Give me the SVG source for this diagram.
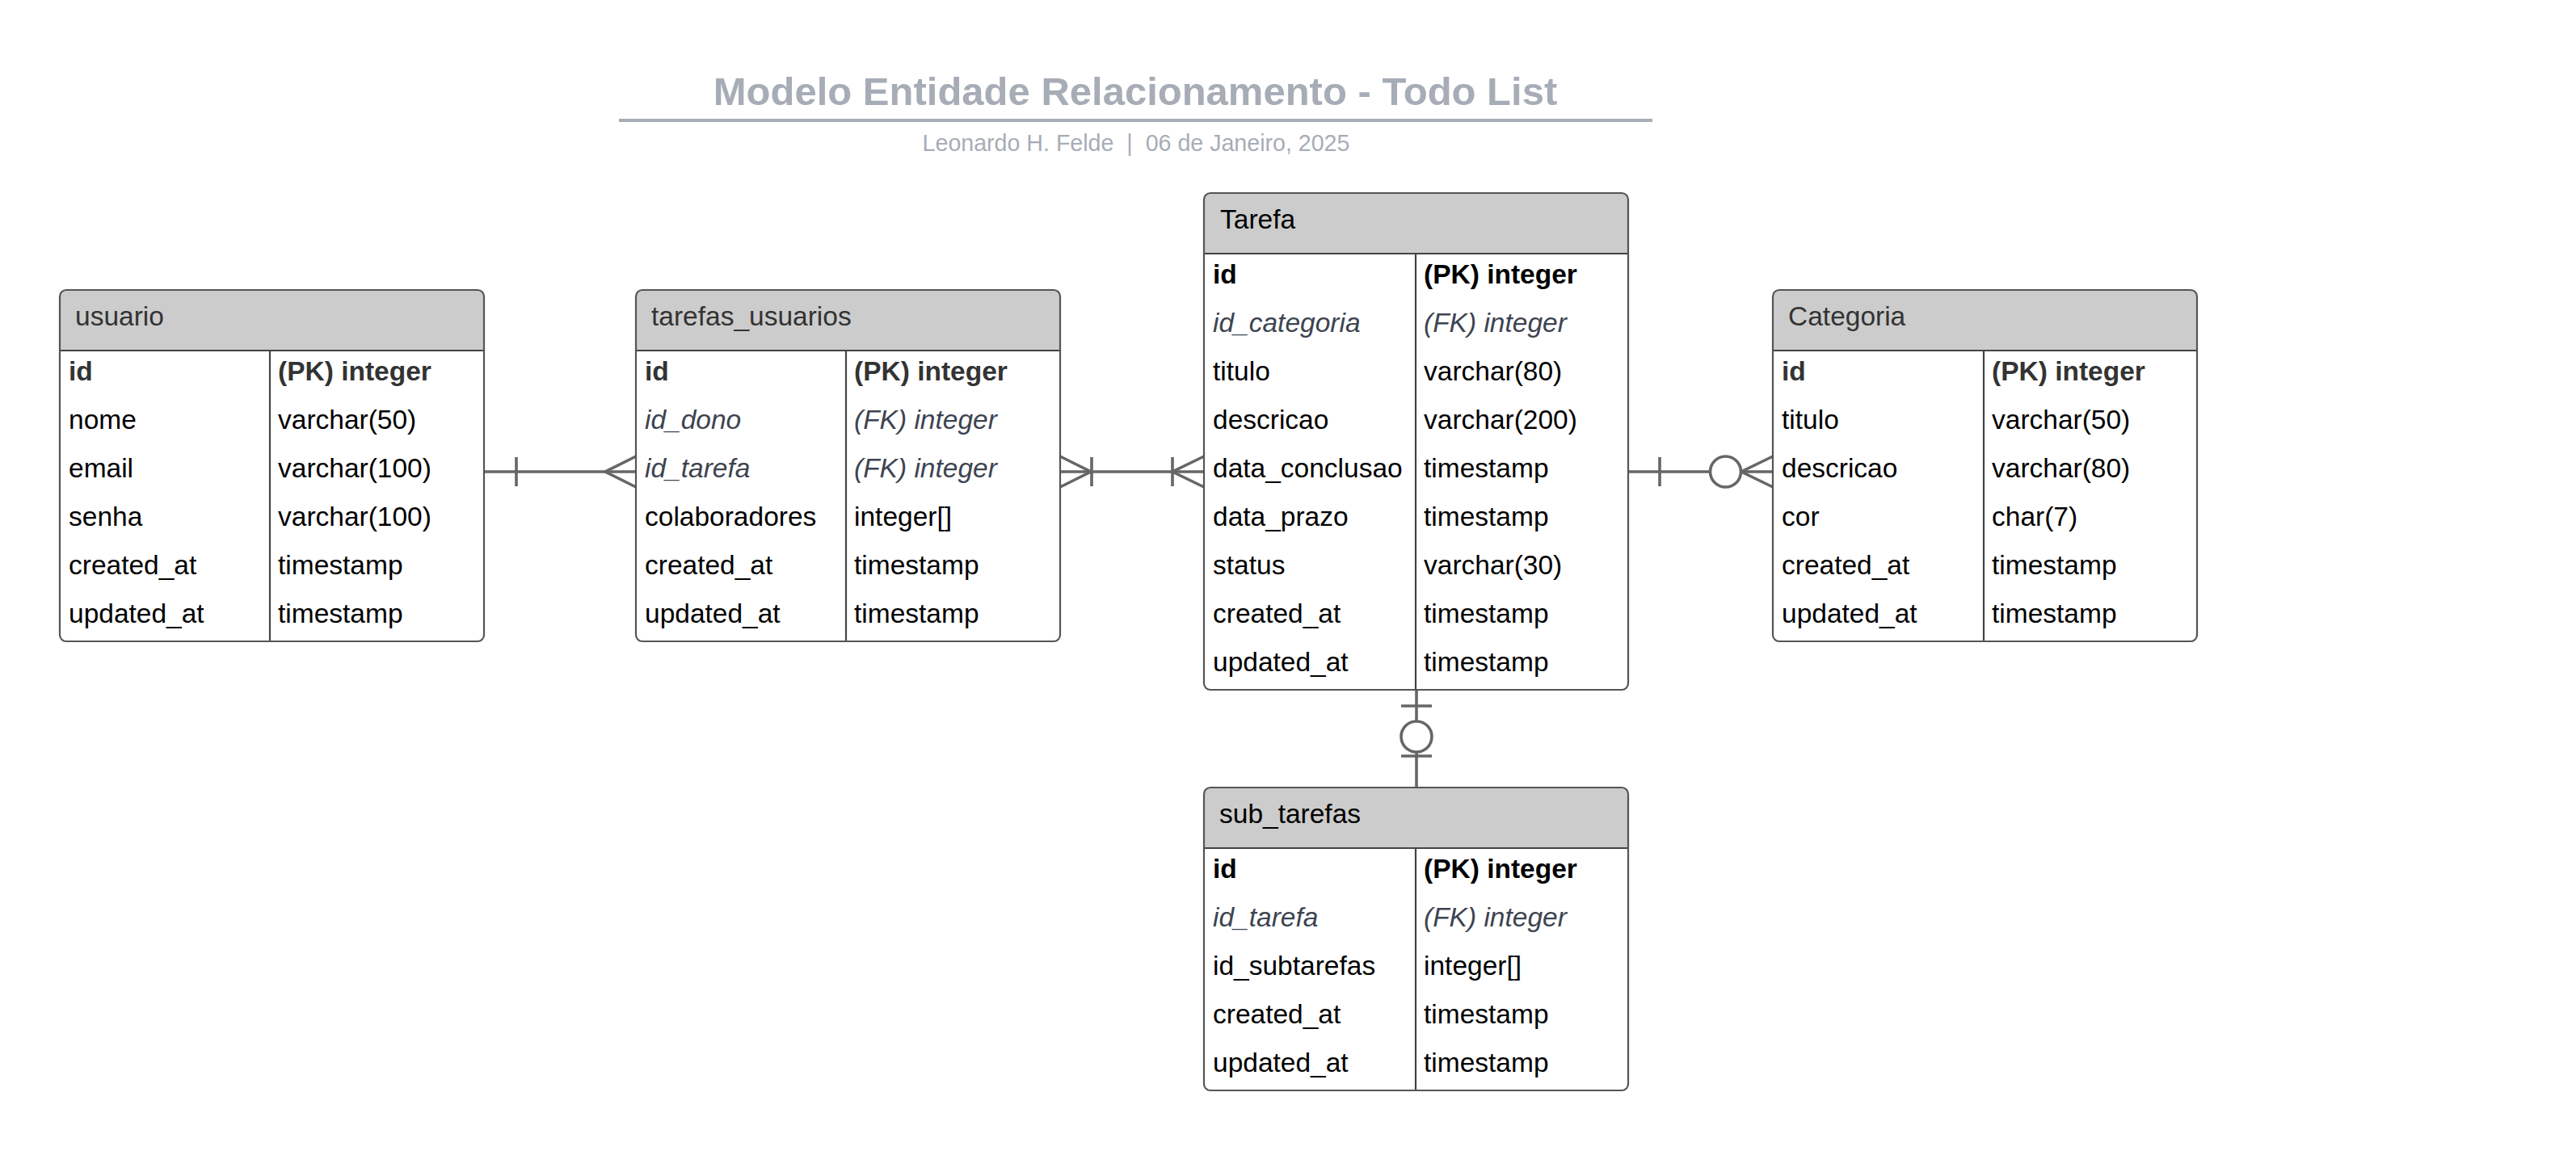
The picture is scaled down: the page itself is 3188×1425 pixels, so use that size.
<svg xmlns="http://www.w3.org/2000/svg" width="3188" height="1425" viewBox="0 0 3188 1425">
<style>
text{font-family:"Liberation Sans",Arial,sans-serif;}
.title{font-size:49px;font-weight:bold;fill:#a7adb6;}
.sub{font-size:28.6px;fill:#a7adb6;}
.hdr{fill:#cccccc;}
.frame{fill:none;stroke:#555555;stroke-width:2.2;}
.body{fill:#ffffff;}
.div{stroke:#444444;stroke-width:2.2;}
.ht{font-size:33.5px;fill:#333333;}
.ht.dk{fill:#000000;}
.t{font-size:33.5px;fill:#000000;}
.pk{font-size:33.5px;font-weight:bold;fill:#333333;}
.pk.dk{fill:#000000;}
.fk{font-size:33.5px;font-style:italic;fill:#3d4451;}
.cn{stroke:#666666;stroke-width:3.6;fill:none;}
.cc{stroke:#666666;stroke-width:3.6;fill:#ffffff;}
</style>

<g id="title">
<text class="title" x="1405" y="130" text-anchor="middle">Modelo Entidade Relacionamento - Todo List</text>
<line x1="766" y1="149" x2="2045" y2="149" stroke="#a7adb6" stroke-width="4"/>
<text class="sub" x="1406" y="187" text-anchor="middle" xml:space="preserve">Leonardo H. Felde  |  06 de Janeiro, 2025</text>
</g>

<g id="connectors">
<!-- usuario -> tarefas_usuarios -->
<line class="cn" x1="599" y1="584" x2="787" y2="584"/>
<line class="cn" x1="639" y1="566" x2="639" y2="602"/>
<path class="cn" d="M787,565 L749,584 L787,603"/>
<!-- tarefas_usuarios -> Tarefa -->
<line class="cn" x1="1312" y1="584" x2="1490" y2="584"/>
<path class="cn" d="M1312,565 L1350,584 L1312,603"/>
<line class="cn" x1="1351" y1="566" x2="1351" y2="602"/>
<line class="cn" x1="1451" y1="566" x2="1451" y2="602"/>
<path class="cn" d="M1490,565 L1451,584 L1490,603"/>
<!-- Tarefa -> Categoria -->
<line class="cn" x1="2015" y1="584" x2="2194" y2="584"/>
<line class="cn" x1="2054" y1="566" x2="2054" y2="602"/>
<path class="cn" d="M2194,565 L2155,584 L2194,603"/>
<circle class="cc" cx="2135.5" cy="584" r="19"/>
<!-- Tarefa -> sub_tarefas -->
<line class="cn" x1="1753" y1="854" x2="1753" y2="975"/>
<line class="cn" x1="1734" y1="874" x2="1772" y2="874"/>
<circle class="cc" cx="1753" cy="912" r="19"/>
<line class="cn" x1="1734" y1="936" x2="1772" y2="936"/>
</g>

<g id="usuario">
<rect class="body" x="74" y="359" width="525" height="435" rx="8"/>
<path class="hdr" d="M74,434 V367 Q74,359 82,359 H591 Q599,359 599,367 V434 Z"/>
<line class="div" x1="74" y1="434" x2="599" y2="434"/>
<line class="div" x1="334" y1="434" x2="334" y2="794"/>
<rect class="frame" x="74" y="359" width="525" height="435" rx="8"/>
<text class="ht" x="93" y="403">usuario</text>
<text class="pk" x="85" y="471">id</text><text class="pk" x="344" y="471">(PK) integer</text>
<text class="t" x="85" y="531">nome</text><text class="t" x="344" y="531">varchar(50)</text>
<text class="t" x="85" y="591">email</text><text class="t" x="344" y="591">varchar(100)</text>
<text class="t" x="85" y="651">senha</text><text class="t" x="344" y="651">varchar(100)</text>
<text class="t" x="85" y="711">created_at</text><text class="t" x="344" y="711">timestamp</text>
<text class="t" x="85" y="771">updated_at</text><text class="t" x="344" y="771">timestamp</text>
</g>

<g id="tarefas_usuarios">
<rect class="body" x="787" y="359" width="525" height="435" rx="8"/>
<path class="hdr" d="M787,434 V367 Q787,359 795,359 H1304 Q1312,359 1312,367 V434 Z"/>
<line class="div" x1="787" y1="434" x2="1312" y2="434"/>
<line class="div" x1="1047" y1="434" x2="1047" y2="794"/>
<rect class="frame" x="787" y="359" width="525" height="435" rx="8"/>
<text class="ht" x="806" y="403">tarefas_usuarios</text>
<text class="pk" x="798" y="471">id</text><text class="pk" x="1057" y="471">(PK) integer</text>
<text class="fk" x="798" y="531">id_dono</text><text class="fk" x="1057" y="531">(FK) integer</text>
<text class="fk" x="798" y="591">id_tarefa</text><text class="fk" x="1057" y="591">(FK) integer</text>
<text class="t" x="798" y="651">colaboradores</text><text class="t" x="1057" y="651">integer[]</text>
<text class="t" x="798" y="711">created_at</text><text class="t" x="1057" y="711">timestamp</text>
<text class="t" x="798" y="771">updated_at</text><text class="t" x="1057" y="771">timestamp</text>
</g>

<g id="tarefa">
<rect class="body" x="1490" y="239" width="525" height="615" rx="8"/>
<path class="hdr" d="M1490,314 V247 Q1490,239 1498,239 H2007 Q2015,239 2015,247 V314 Z"/>
<line class="div" x1="1490" y1="314" x2="2015" y2="314"/>
<line class="div" x1="1752" y1="314" x2="1752" y2="854"/>
<rect class="frame" x="1490" y="239" width="525" height="615" rx="8"/>
<text class="ht dk" x="1510" y="283">Tarefa</text>
<text class="pk dk" x="1501" y="351">id</text><text class="pk dk" x="1762" y="351">(PK) integer</text>
<text class="fk" x="1501" y="411">id_categoria</text><text class="fk" x="1762" y="411">(FK) integer</text>
<text class="t" x="1501" y="471">titulo</text><text class="t" x="1762" y="471">varchar(80)</text>
<text class="t" x="1501" y="531">descricao</text><text class="t" x="1762" y="531">varchar(200)</text>
<text class="t" x="1501" y="591">data_conclusao</text><text class="t" x="1762" y="591">timestamp</text>
<text class="t" x="1501" y="651">data_prazo</text><text class="t" x="1762" y="651">timestamp</text>
<text class="t" x="1501" y="711">status</text><text class="t" x="1762" y="711">varchar(30)</text>
<text class="t" x="1501" y="771">created_at</text><text class="t" x="1762" y="771">timestamp</text>
<text class="t" x="1501" y="831">updated_at</text><text class="t" x="1762" y="831">timestamp</text>
</g>

<g id="categoria">
<rect class="body" x="2194" y="359" width="525" height="435" rx="8"/>
<path class="hdr" d="M2194,434 V367 Q2194,359 2202,359 H2711 Q2719,359 2719,367 V434 Z"/>
<line class="div" x1="2194" y1="434" x2="2719" y2="434"/>
<line class="div" x1="2455" y1="434" x2="2455" y2="794"/>
<rect class="frame" x="2194" y="359" width="525" height="435" rx="8"/>
<text class="ht" x="2213" y="403">Categoria</text>
<text class="pk" x="2205" y="471">id</text><text class="pk" x="2465" y="471">(PK) integer</text>
<text class="t" x="2205" y="531">titulo</text><text class="t" x="2465" y="531">varchar(50)</text>
<text class="t" x="2205" y="591">descricao</text><text class="t" x="2465" y="591">varchar(80)</text>
<text class="t" x="2205" y="651">cor</text><text class="t" x="2465" y="651">char(7)</text>
<text class="t" x="2205" y="711">created_at</text><text class="t" x="2465" y="711">timestamp</text>
<text class="t" x="2205" y="771">updated_at</text><text class="t" x="2465" y="771">timestamp</text>
</g>

<g id="sub_tarefas">
<rect class="body" x="1490" y="975" width="525" height="375" rx="8"/>
<path class="hdr" d="M1490,1050 V983 Q1490,975 1498,975 H2007 Q2015,975 2015,983 V1050 Z"/>
<line class="div" x1="1490" y1="1050" x2="2015" y2="1050"/>
<line class="div" x1="1752" y1="1050" x2="1752" y2="1350"/>
<rect class="frame" x="1490" y="975" width="525" height="375" rx="8"/>
<text class="ht dk" x="1509" y="1019">sub_tarefas</text>
<text class="pk dk" x="1501" y="1087">id</text><text class="pk dk" x="1762" y="1087">(PK) integer</text>
<text class="fk" x="1501" y="1147">id_tarefa</text><text class="fk" x="1762" y="1147">(FK) integer</text>
<text class="t" x="1501" y="1207">id_subtarefas</text><text class="t" x="1762" y="1207">integer[]</text>
<text class="t" x="1501" y="1267">created_at</text><text class="t" x="1762" y="1267">timestamp</text>
<text class="t" x="1501" y="1327">updated_at</text><text class="t" x="1762" y="1327">timestamp</text>
</g>
</svg>
